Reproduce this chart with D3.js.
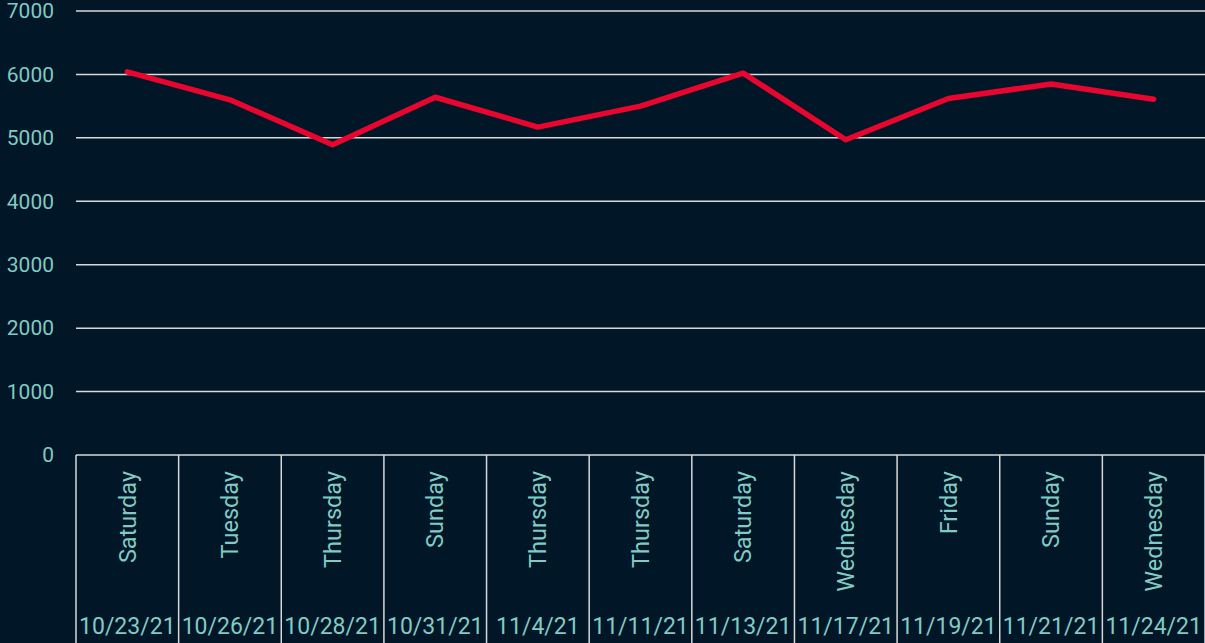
<!DOCTYPE html>
<html>
<head>
<meta charset="utf-8">
<script src="https://cdn.jsdelivr.net/npm/d3@7"></script>
<style>
  body { margin: 0; background: #011627; }
  svg { display: block; }
</style>
</head>
<body>
<div id="viz-container"></div>
<script>
// data
let dates = ["10/23/21", "10/26/21", "10/28/21", "10/31/21", "11/4/21", "11/11/21",
             "11/13/21", "11/17/21", "11/19/21", "11/21/21", "11/24/21"];
let days = ["Saturday", "Tuesday", "Thursday", "Sunday", "Thursday", "Thursday",
            "Saturday", "Wednesday", "Friday", "Sunday", "Wednesday"];
let values = [6040, 5600, 4890, 5640, 5170, 5500, 6020, 4970, 5620, 5850, 5610];
let yTicks = [0, 1000, 2000, 3000, 4000, 5000, 6000, 7000];

let W = 1205, H = 643;
let plotLeft = 76, plotRight = 1205, plotTop = 11, plotBottom = 455;
let textColor = "#80cbc4";
let gridColor = "#d9d9d9";

let viz = d3.select("#viz-container")
  .append("svg")
    .attr("width", W)
    .attr("height", H)
    .style("background", "#011627")
;

let x = d3.scaleBand()
    .domain(d3.range(dates.length))
    .range([plotLeft, plotRight])
    .padding(0)
;

let y = d3.scaleLinear()
    .domain([0, 7000])
    .range([plotBottom, plotTop])
;

// gridlines
viz.append("g")
  .selectAll("line")
  .data(yTicks)
  .join("line")
    .attr("x1", plotLeft)
    .attr("x2", plotRight)
    .attr("y1", d => y(d))
    .attr("y2", d => y(d))
    .attr("stroke", gridColor)
    .attr("stroke-width", 1.5)
;

// y labels
viz.append("g")
  .selectAll("text")
  .data(yTicks)
  .join("text")
    .attr("x", 54)
    .attr("y", d => y(d))
    .attr("dy", "0.35em")
    .attr("text-anchor", "end")
    .attr("fill", textColor)
    .style("font-family", "Roboto")
    .style("font-size", "21px")
    .text(d => d)
;

// category dividers
let edges = d3.range(dates.length + 1).map(i => i < dates.length ? x(i) : x(i - 1) + x.bandwidth());
viz.append("g")
  .selectAll("line")
  .data(edges)
  .join("line")
    .attr("x1", d => d)
    .attr("x2", d => d)
    .attr("y1", plotBottom)
    .attr("y2", H)
    .attr("stroke", gridColor)
    .attr("stroke-width", 1.5)
;

// day names, rotated
viz.append("g")
  .selectAll("text")
  .data(days)
  .join("text")
    .attr("transform", (d, i) => "translate(" + (x(i) + x.bandwidth() / 2) + ",471) rotate(-90)")
    .attr("text-anchor", "end")
    .attr("dy", "0.35em")
    .attr("fill", textColor)
    .style("font-family", "Roboto")
    .style("font-size", "23.5px")
    .text(d => d)
;

// dates
viz.append("g")
  .selectAll("text")
  .data(dates)
  .join("text")
    .attr("x", (d, i) => x(i) + x.bandwidth() / 2)
    .attr("y", 634)
    .attr("text-anchor", "middle")
    .attr("fill", textColor)
    .style("font-family", "Roboto")
    .style("font-size", "23px")
    .text(d => d)
;

// the line
let line = d3.line()
    .x((d, i) => x(i) + x.bandwidth() / 2)
    .y(d => y(d))
;

viz.append("path")
    .datum(values)
    .attr("d", line)
    .attr("fill", "none")
    .attr("stroke", "#e8062f")
    .attr("stroke-width", 5.5)
    .attr("stroke-linejoin", "round")
    .attr("stroke-linecap", "round")
;
</script>
</body>
</html>
